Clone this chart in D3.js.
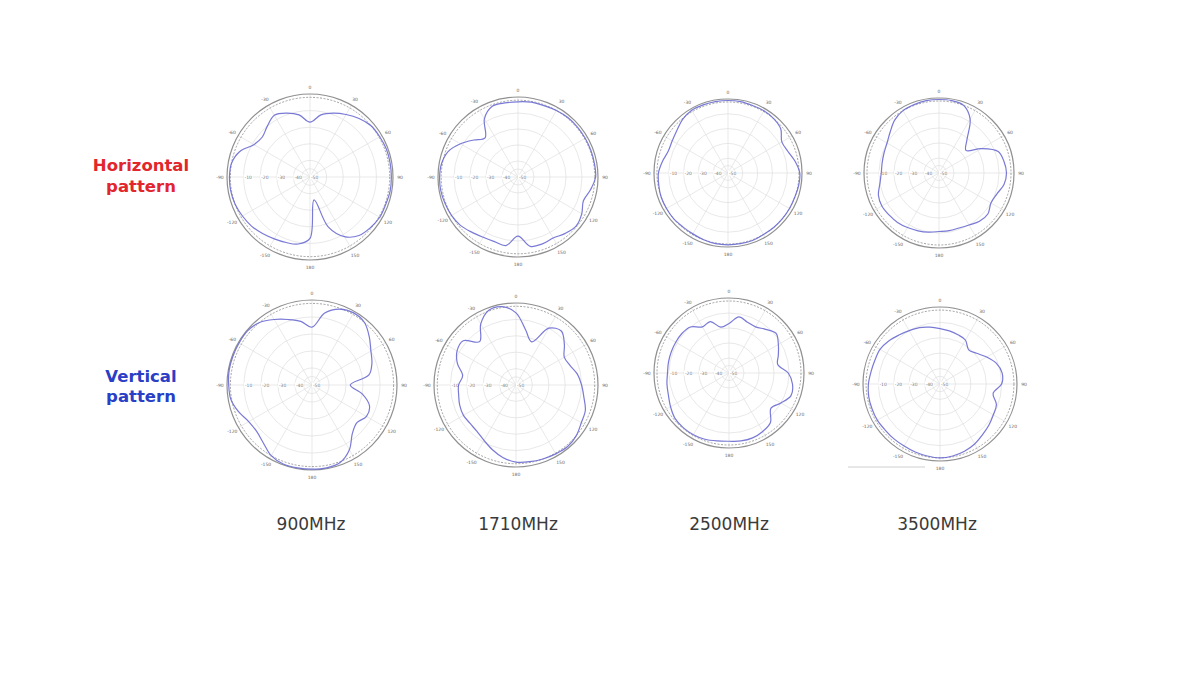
<!DOCTYPE html>
<html>
<head>
<meta charset="utf-8">
<script src="https://cdn.jsdelivr.net/npm/d3@7"></script>
<style>
  html, body { margin: 0; padding: 0; background: #ffffff; }
  svg { display: block; }
</style>
</head>
<body>
<svg id="chart" width="1200" height="675"></svg>
<script>
// ---------------- DATA ----------------
const frequencies = ["900MHz", "1710MHz", "2500MHz", "3500MHz"];
const rowLabels = [["Horizontal", "pattern"], ["Vertical", "pattern"]];
// azimuth angles in degrees (0 = top, clockwise)
const angles = d3.range(0, 360, 10);
// angle tick labels around the rim
const angleTicks = ["0", "30", "60", "90", "120", "150", "180", "-150", "-120", "-90", "-60", "-30"];
// radial ring ticks (dB)
const ringTicks = [-10, -20, -30, -40];
const radialDomain = [-50, 0];

// relative gain in dB at each angle
const h900 = [-17,-12,-9,-6.5,-4,-2,-1.5,-1,-1,-1,-1,-1.5,-1.5,-2.5,-4,-8.5,-18,-36,-13,-9,-8,-7,-5.5,-4,-3,-2,-1.5,-1.5,-2,-5,-11,-12.5,-10,-7,-9,-12];
const h1710 = [-3,-2.5,-2.5,-2,-1.5,-1.5,-1.5,-1.5,-1.5,-1.5,-4,-6.5,-4,-2.5,-4,-6,-5.5,-6,-13,-6.5,-7,-6.5,-5,-3,-2,-1.5,-1,-1,-1.5,-3.5,-8.5,-14,-18,-8,-3,-3];
const h2500 = [-1,-1,-1.5,-1.5,-2,-3.5,-8,-7,-4,-1.5,-1.5,-2,-2,-2,-2,-2,-1.5,-1.5,-1.5,-1.5,-2,-2.5,-2.5,-2,-2,-2,-2.5,-3,-5,-7,-6.5,-5,-2.5,-1,-1,-1];
const h3500 = [-1,-1,-2,-8.5,-21,-26.5,-17.5,-8,-6,-5,-6,-9,-10,-7.5,-8,-10,-11,-11,-11,-10,-9,-8,-7,-6.5,-6,-7,-10,-11.5,-11.5,-11,-10,-7.5,-4,-2,-1.5,-1];
const v900 = [-16,-7,-2.5,-1,-2,-6,-10,-12.5,-16,-27.5,-20,-14,-13,-15.5,-13,-6,-1.5,-0.5,-0.5,-0.5,-0.5,-2,-5.5,-7.5,-7,-4,-1.5,-1,-0.5,-0.5,-0.5,-0.5,-2,-5.5,-9,-12];
const v1710 = [-6,-16,-22,-10,-7,-11.5,-16,-15,-12,-10,-8,-5,-4,-2,-1,-1.5,-2,-2.5,-3,-5,-8,-11,-13,-13.5,-13,-13.5,-14.5,-15,-17,-12,-8.5,-8,-15.5,-7,-1.5,-1.5];
const v2500 = [-17,-12,-14,-14.5,-12,-9,-12,-15,-17,-10.5,-7,-6,-10,-13.5,-7,-5,-4,-4,-4.5,-4,-3,-2.5,-2.5,-3,-5,-7,-8,-9,-9,-9,-9,-9,-10,-14.5,-13.5,-19];
const v3500 = [-14,-15,-16,-17,-21,-19,-15,-11,-9,-10,-15,-11,-10,-8.5,-7,-5,-3.5,-2.5,-2,-2.5,-3,-3.5,-3.5,-3.5,-3,-3,-3,-3.5,-4.5,-5,-5,-6.5,-8.5,-10,-11,-12.5];

const seriesRows = [[h900, h1710, h2500, h3500], [v900, v1710, v2500, v3500]];

// ---------------- LAYOUT ----------------
const plotGeom = [
  [{cx: 310, cy: 177, r: 83}, {cx: 518, cy: 177, r: 80}, {cx: 728, cy: 173, r: 74}, {cx: 939, cy: 173, r: 75}],
  [{cx: 312, cy: 385, r: 85}, {cx: 516, cy: 385, r: 82}, {cx: 729, cy: 373, r: 75}, {cx: 940, cy: 384, r: 77}]
];
const rowLabelY = [[171, 192], [382, 402]];
const rowColors = ["#e2262c", "#2a3ec6"];
const freqX = [311, 518, 729, 937];
const freqY = 530;

const svg = d3.select("#chart");
const FONT = "DejaVu Sans, Verdana, sans-serif";

function drawPolar(g, geo, values) {
  const rScale = d3.scaleLinear().domain(radialDomain).range([0, geo.r]);
  const aRad = d => d * Math.PI / 180;
  const gg = g.append("g").attr("transform", `translate(${geo.cx},${geo.cy})`);

  // rings
  gg.selectAll("circle.ring").data(ringTicks.concat([-45])).enter().append("circle")
    .attr("r", d => rScale(d)).attr("fill", "none")
    .attr("stroke", "#dedede").attr("stroke-width", 0.7);
  // spokes
  gg.selectAll("line.spoke").data(d3.range(0, 360, 30)).enter().append("line")
    .attr("x1", 0).attr("y1", 0)
    .attr("x2", d => rScale(radialDomain[1]) * Math.sin(aRad(d)))
    .attr("y2", d => -rScale(radialDomain[1]) * Math.cos(aRad(d)))
    .attr("stroke", "#e0e0e0").attr("stroke-width", 0.7);
  // dashed inner reference circle
  gg.append("circle").attr("r", rScale(-2)).attr("fill", "none")
    .attr("stroke", "#8a8a8a").attr("stroke-width", 0.8).attr("stroke-dasharray", "2,1.5");
  // outer circle
  gg.append("circle").attr("r", rScale(0)).attr("fill", "none")
    .attr("stroke", "#909090").attr("stroke-width", 1.2);

  // radial labels on left axis
  const rl = gg.selectAll("g.rl").data(ringTicks.concat([-50])).enter().append("g")
    .attr("transform", d => `translate(${-rScale(d)},0)`);
  rl.append("rect").attr("x", 0).attr("y", -2.5).attr("width", 9).attr("height", 5).attr("fill", "#fff");
  rl.append("text").attr("x", 1).attr("y", 1.6)
    .attr("font-size", 4.5).attr("font-family", FONT).attr("fill", "#777").text(d => d);

  // angle labels
  gg.selectAll("text.al").data(angleTicks).enter().append("text")
    .attr("x", (d, i) => (rScale(0) + 7) * Math.sin(aRad(i * 30)))
    .attr("y", (d, i) => -(rScale(0) + 7) * Math.cos(aRad(i * 30)) + 1.6)
    .attr("text-anchor", "middle").attr("font-size", 4.5)
    .attr("font-family", FONT).attr("fill", "#666").text(d => d);

  // pattern
  const line = d3.lineRadial()
    .angle((d, i) => aRad(angles[i]))
    .radius(d => rScale(d))
    .curve(d3.curveCatmullRomClosed.alpha(0.5));
  gg.append("path").datum(values).attr("d", line)
    .attr("fill", "none").attr("stroke", "#6a6ad2").attr("stroke-width", 1.2)
    .attr("stroke-opacity", 0.9);
}

seriesRows.forEach((row, ri) => {
  row.forEach((vals, ci) => {
    drawPolar(svg.append("g"), plotGeom[ri][ci], vals);
  });
  // row label
  svg.append("g").selectAll("text").data(rowLabels[ri]).enter().append("text")
    .attr("x", 141).attr("y", (d, i) => rowLabelY[ri][i])
    .attr("text-anchor", "middle").attr("font-family", FONT)
    .attr("font-weight", "bold").attr("font-size", 16.5)
    .attr("fill", rowColors[ri]).text(d => d);
});

// frequency labels
svg.append("g").selectAll("text").data(frequencies).enter().append("text")
  .attr("x", (d, i) => freqX[i]).attr("y", freqY)
  .attr("text-anchor", "middle").attr("font-family", FONT)
  .attr("font-size", 17).attr("fill", "#3a3a3a").text(d => d);

// faint stray rule below the last vertical pattern
svg.append("line").attr("x1", 848).attr("x2", 925).attr("y1", 467).attr("y2", 467)
  .attr("stroke", "#cfcfcf").attr("stroke-width", 1);
</script>
</body>
</html>
